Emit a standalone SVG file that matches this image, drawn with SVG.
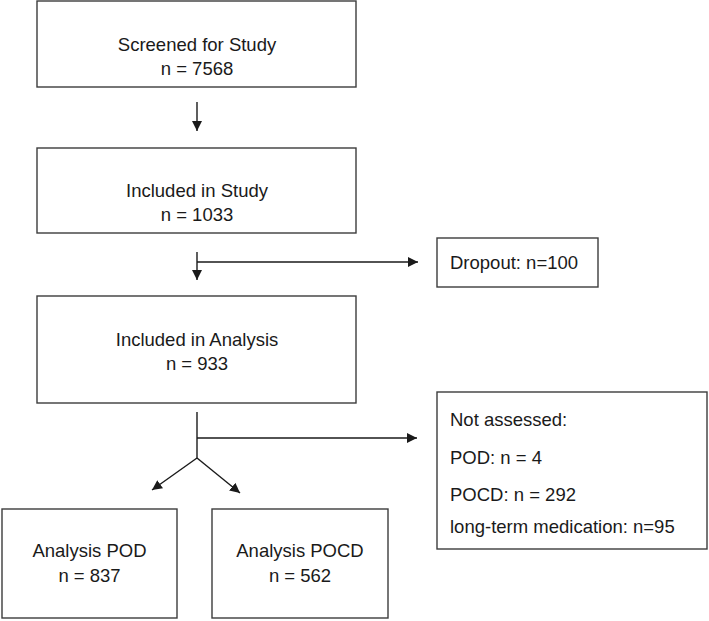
<svg xmlns="http://www.w3.org/2000/svg" width="709" height="621" viewBox="0 0 709 621">
<style>
rect{fill:#fff;stroke:#3c3c3c;stroke-width:1.4}
text{font-family:"Liberation Sans",Arial,sans-serif;font-size:18.5px;fill:#1a1a1a}
.c{text-anchor:middle}
.ln{stroke:#1a1a1a;stroke-width:1.4;fill:none}
</style>
<defs>
<marker id="ah" viewBox="0 0 10 10" refX="10" refY="5" markerWidth="10" markerHeight="10" markerUnits="userSpaceOnUse" orient="auto">
<path d="M0,0 L10,5 L0,10 Z" fill="#1a1a1a"/>
</marker>
</defs>
<rect x="0" y="0" width="709" height="621" style="fill:#fff;stroke:none"/>
<g id="screened"><rect x="37" y="1" width="319" height="86"/><text class="c" x="197" y="51">Screened for Study</text><text class="c" x="197" y="75">n = 7568</text></g>
<g id="included"><rect x="37" y="148" width="319" height="85"/><text class="c" x="197" y="197">Included in Study</text><text class="c" x="197" y="221">n = 1033</text></g>
<g id="dropout"><rect x="437" y="238" width="161" height="49"/><text x="450" y="269">Dropout: n=100</text></g>
<g id="analysis"><rect x="37" y="296" width="319" height="107"/><text class="c" x="197" y="346">Included in Analysis</text><text class="c" x="197" y="370">n = 933</text></g>
<g id="notassessed"><rect x="437" y="392" width="270" height="157"/><text x="450" y="426">Not assessed:</text><text x="450" y="464">POD: n = 4</text><text x="450" y="501">POCD: n = 292</text><text x="450" y="533">long-term medication: n=95</text></g>
<g id="pod"><rect x="2" y="509" width="175" height="109"/><text class="c" x="89.5" y="557">Analysis POD</text><text class="c" x="89.5" y="582">n = 837</text></g>
<g id="pocd"><rect x="212" y="509" width="176" height="109"/><text class="c" x="300" y="557">Analysis POCD</text><text class="c" x="300" y="582">n = 562</text></g>
<g id="connectors">
<line class="ln" x1="197" y1="102" x2="197" y2="131" marker-end="url(#ah)"/>
<line class="ln" x1="197" y1="252" x2="197" y2="280" marker-end="url(#ah)"/>
<line class="ln" x1="197" y1="262" x2="418" y2="262" marker-end="url(#ah)"/>
<line class="ln" x1="197" y1="412" x2="197" y2="458"/>
<line class="ln" x1="197" y1="438" x2="417" y2="438" marker-end="url(#ah)"/>
<line class="ln" x1="197" y1="458" x2="152" y2="490" marker-end="url(#ah)"/>
<line class="ln" x1="197" y1="458" x2="240" y2="493" marker-end="url(#ah)"/>
</g>
</svg>
